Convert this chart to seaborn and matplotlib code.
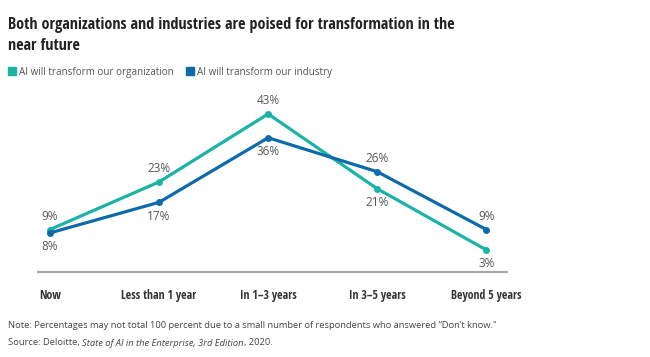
import matplotlib
matplotlib.use("Agg")
import matplotlib.pyplot as plt
import seaborn as sns
import pandas as pd
from matplotlib.lines import Line2D

categories = ["Now", "Less than 1 year", "In 1\u20133 years", "In 3\u20135 years", "Beyond 5 years"]
org_values = [9, 23, 43, 21, 3]
ind_values = [8, 17, 36, 26, 9]
series_names = ["AI will transform our organization", "AI will transform our industry"]
org_label_pos = ["above", "above", "above", "below", "below"]
ind_label_pos = ["below", "below", "below", "above", "above"]

colors = ["#1AB3A6", "#0C6BA8"]

sns.set_theme(style="white")
plt.rcParams['font.family'] = ['Open Sans', 'DejaVu Sans']
COND = ['Open Sans Condensed', 'DejaVu Sans']

df = pd.DataFrame({
    "x": list(range(len(categories))) * 2,
    "value": org_values + ind_values,
    "series": [series_names[0]] * len(categories) + [series_names[1]] * len(categories),
})

fig = plt.figure(figsize=(6.5, 3.57), dpi=100)
ax = fig.add_axes([38/650, 1-272/357, (507-38)/650, (272-100)/357])

sns.lineplot(data=df, x="x", y="value", hue="series", palette=colors,
             marker="o", markersize=5, markeredgewidth=0, linewidth=2.3,
             ax=ax, legend=False, sort=False)

ax.set_xlim(-0.11, 4.19)
ax.set_ylim(-3.5, 47.1)
ax.set_xticks(range(len(categories)))
ax.set_xticklabels(categories, fontfamily=COND, fontweight='bold', fontsize=8.6, color="#333333")
ax.tick_params(axis='x', length=0, pad=12)
ax.set_yticks([])
ax.set_xlabel("")
ax.set_ylabel("")
for s in ["top", "left", "right"]:
    ax.spines[s].set_visible(False)
ax.spines["bottom"].set_color("#A6A6A6")
ax.spines["bottom"].set_linewidth(1.5)

for vals, poss in [(org_values, org_label_pos), (ind_values, ind_label_pos)]:
    for i, (v, p) in enumerate(zip(vals, poss)):
        off = 9.5 if p == "above" else -10
        ax.annotate(f"{v}%", (i, v), xytext=(0, off), textcoords="offset points",
                    ha="center", va="center", fontsize=8.5, color="#555555")

fig.text(8/650, 1-29/357, "Both organizations and industries are poised for transformation in the",
         ha="left", va="baseline", fontsize=11.6, fontweight="bold", color="#222222", fontfamily=COND)
fig.text(8/650, 1-50/357, "near future",
         ha="left", va="baseline", fontsize=11.6, fontweight="bold", color="#222222", fontfamily=COND)

handles = [Line2D([], [], marker="s", linestyle="none", markersize=5.5, color=c) for c in colors]
fig.legend(handles, series_names, loc="center left", bbox_to_anchor=(5/650, 1-72/357),
           ncol=2, frameon=False, fontsize=7.1, handletextpad=0.35, columnspacing=1.2,
           labelcolor="#555555", handlelength=0.8, borderaxespad=0, borderpad=0.3)

fs = 6.75
fig.text(8/650, 1-325/357,
         "Note: Percentages may not total 100 percent due to a small number of respondents who answered \u201cDon\u2019t know.\"",
         ha="left", va="center", fontsize=fs, color="#444444")
t1 = fig.text(8/650, 1-343/357, "Source: Deloitte, ", ha="left", va="center", fontsize=fs, color="#444444")
fig.canvas.draw()
r = fig.canvas.get_renderer()
bb = t1.get_window_extent(r)
t2 = fig.text(bb.x1/fig.bbox.width, 1-343/357, "State of AI in the Enterprise, 3rd Edition",
              ha="left", va="center", fontsize=fs, color="#444444", style="italic")
bb2 = t2.get_window_extent(r)
fig.text(bb2.x1/fig.bbox.width, 1-343/357, ", 2020.", ha="left", va="center", fontsize=fs, color="#444444")

fig.savefig("out.png", dpi=100)
